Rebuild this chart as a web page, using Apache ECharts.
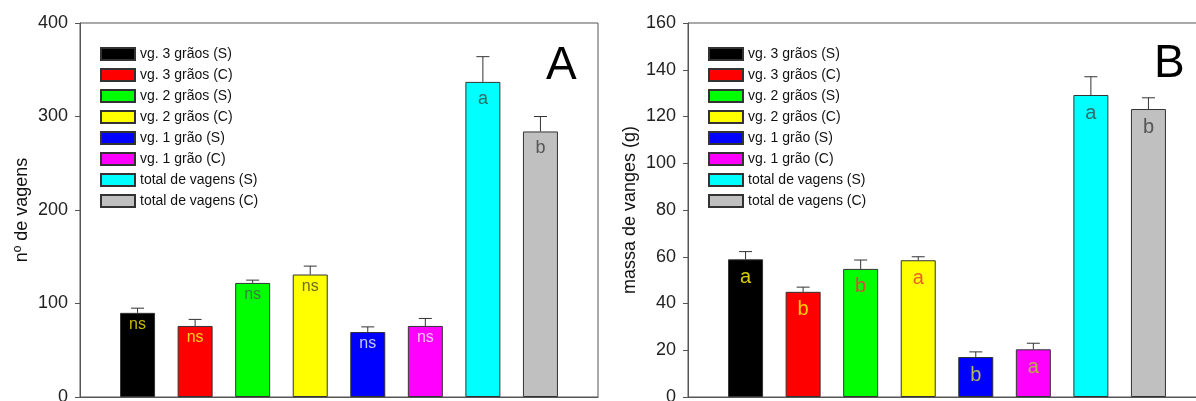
<!DOCTYPE html>
<html>
<head>
<meta charset="utf-8">
<script src="https://cdn.jsdelivr.net/npm/echarts@6/dist/echarts.min.js"></script>
<style>
html, body { margin: 0; padding: 0; background: #fff; }
#container { width: 1196px; height: 401px; }
</style>
</head>
<body>
<div id="container"></div>
<script>
// dados
var nomes = ['vg. 3 grãos (S)', 'vg. 3 grãos (C)', 'vg. 2 grãos (S)', 'vg. 2 grãos (C)',
             'vg. 1 grão (S)', 'vg. 1 grão (C)', 'total de vagens (S)', 'total de vagens (C)'];
var cores = ['#000000', '#ff0000', '#00ff00', '#ffff00', '#0000ff', '#ff00ff', '#00ffff', '#c0c0c0'];

// painel A - nº de vagens
var vagensA = [90, 76, 122, 131, 69.5, 76, 337, 284];
var erroA = [95, 83, 125, 140, 75, 84, 364, 300];
var letrasA = ['ns', 'ns', 'ns', 'ns', 'ns', 'ns', 'a', 'b'];
var corLetraA = ['#c8b800', '#ffd21a', '#3d7a3d', '#6b6b2a', '#c8c8ff', '#ffc0ff', '#2f6b6b', '#555555'];
var ticksA = [0, 100, 200, 300, 400];

// painel B - massa de vanges (g)
var massaB = [58.9, 45, 54.8, 58.5, 17.1, 20.4, 129.2, 123.2];
var erroB = [62.2, 47, 58.6, 60, 19.3, 23, 137, 128];
var letrasB = ['a', 'b', 'b', 'a', 'b', 'a', 'a', 'b'];
var corLetraB = ['#d8cc00', '#ffcc00', '#d84a3a', '#e8602a', '#b4b45a', '#b8b048', '#2f6b6b', '#555555'];
var ticksB = [0, 20, 40, 60, 80, 100, 120, 140, 160];

var fonte = 'Liberation Sans, Arial, sans-serif';
var myChart = echarts.init(document.getElementById('container'));

function errItem(params, api) {
    var x = api.value(0), topo = api.value(1), hi = api.value(2);
    var p0 = api.coord([x, topo]);
    var p1 = api.coord([x, hi]);
    var w = 6.5;
    return {
        type: 'group',
        children: [
            {type: 'line', shape: {x1: p0[0], y1: p0[1], x2: p1[0], y2: p1[1]}, style: {stroke: '#333', lineWidth: 1}},
            {type: 'line', shape: {x1: p1[0] - w, y1: p1[1], x2: p1[0] + w, y2: p1[1]}, style: {stroke: '#333', lineWidth: 1}}
        ]
    };
}

function barras(idx, valores, erros, letras, corLetra, grandes) {
    var s = [];
    for (var i = 0; i < nomes.length; i++) {
        var tam = grandes ? 20 : (i < 6 ? 16 : 18);
        var dist = grandes ? 8 : (i < 6 ? 4 : 8);
        s.push({
            name: nomes[i],
            type: 'bar',
            xAxisIndex: idx,
            yAxisIndex: idx,
            barWidth: 35,
            barGap: '-100%',
            data: [[i + 1, valores[i]]],
            itemStyle: {color: cores[i], borderColor: '#333', borderWidth: 1},
            label: {
                show: true,
                position: 'insideTop',
                distance: dist,
                formatter: letras[i],
                color: corLetra[i],
                fontSize: tam,
                fontFamily: fonte
            },
            emphasis: {disabled: true}
        });
    }
    var err = [];
    for (var j = 0; j < valores.length; j++) {
        err.push([j + 1, valores[j], erros[j]]);
    }
    s.push({
        type: 'custom',
        xAxisIndex: idx,
        yAxisIndex: idx,
        renderItem: errItem,
        encode: {x: 0, y: [1, 2]},
        data: err,
        z: 5
    });
    return s;
}

function eixoY(idx, titulo, ticks) {
    return {
        type: 'value',
        gridIndex: idx,
        min: ticks[0],
        max: ticks[ticks.length - 1],
        interval: ticks[1] - ticks[0],
        name: titulo,
        nameLocation: 'middle',
        nameGap: 49,
        nameTextStyle: {fontSize: 18, color: '#111', fontFamily: fonte},
        axisLine: {show: true, lineStyle: {color: '#555', width: 1}},
        axisTick: {show: true, inside: false, length: 5, lineStyle: {color: '#555'}},
        axisLabel: {fontSize: 18, color: '#222', margin: 12, fontFamily: fonte},
        splitLine: {show: false}
    };
}

function eixoX(idx) {
    return {
        type: 'value',
        gridIndex: idx,
        min: 0,
        max: 9,
        axisLine: {show: true, lineStyle: {color: '#555', width: 1}},
        axisTick: {show: false},
        axisLabel: {show: false},
        splitLine: {show: false}
    };
}

function legenda(left) {
    return {
        data: nomes,
        orient: 'vertical',
        left: left,
        top: 47,
        padding: 0,
        icon: 'rect',
        itemWidth: 34,
        itemHeight: 12,
        itemGap: 7,
        selectedMode: false,
        textStyle: {fontSize: 14, color: '#111', fontFamily: fonte}
    };
}

var option = {
    animation: false,
    backgroundColor: '#fff',
    grid: [
        {left: 80, top: 23, width: 518, height: 374, outerBoundsMode: 'none', containLabel: false,
         show: true, borderColor: '#555', borderWidth: 1},
        {left: 688, top: 23, width: 518, height: 374, outerBoundsMode: 'none', containLabel: false,
         show: true, borderColor: '#555', borderWidth: 1}
    ],
    title: [
        {text: 'A', left: 541, top: 38, textStyle: {fontSize: 46, fontWeight: 'normal', color: '#000', fontFamily: fonte}},
        {text: 'B', left: 1149, top: 36, textStyle: {fontSize: 46, fontWeight: 'normal', color: '#000', fontFamily: fonte}}
    ],
    legend: [legenda(100), legenda(708)],
    xAxis: [eixoX(0), eixoX(1)],
    yAxis: [eixoY(0, 'nº de vagens', ticksA), eixoY(1, 'massa de vanges (g)', ticksB)],
    series: barras(0, vagensA, erroA, letrasA, corLetraA, false).concat(barras(1, massaB, erroB, letrasB, corLetraB, true))
};

myChart.setOption(option);
</script>
</body>
</html>
